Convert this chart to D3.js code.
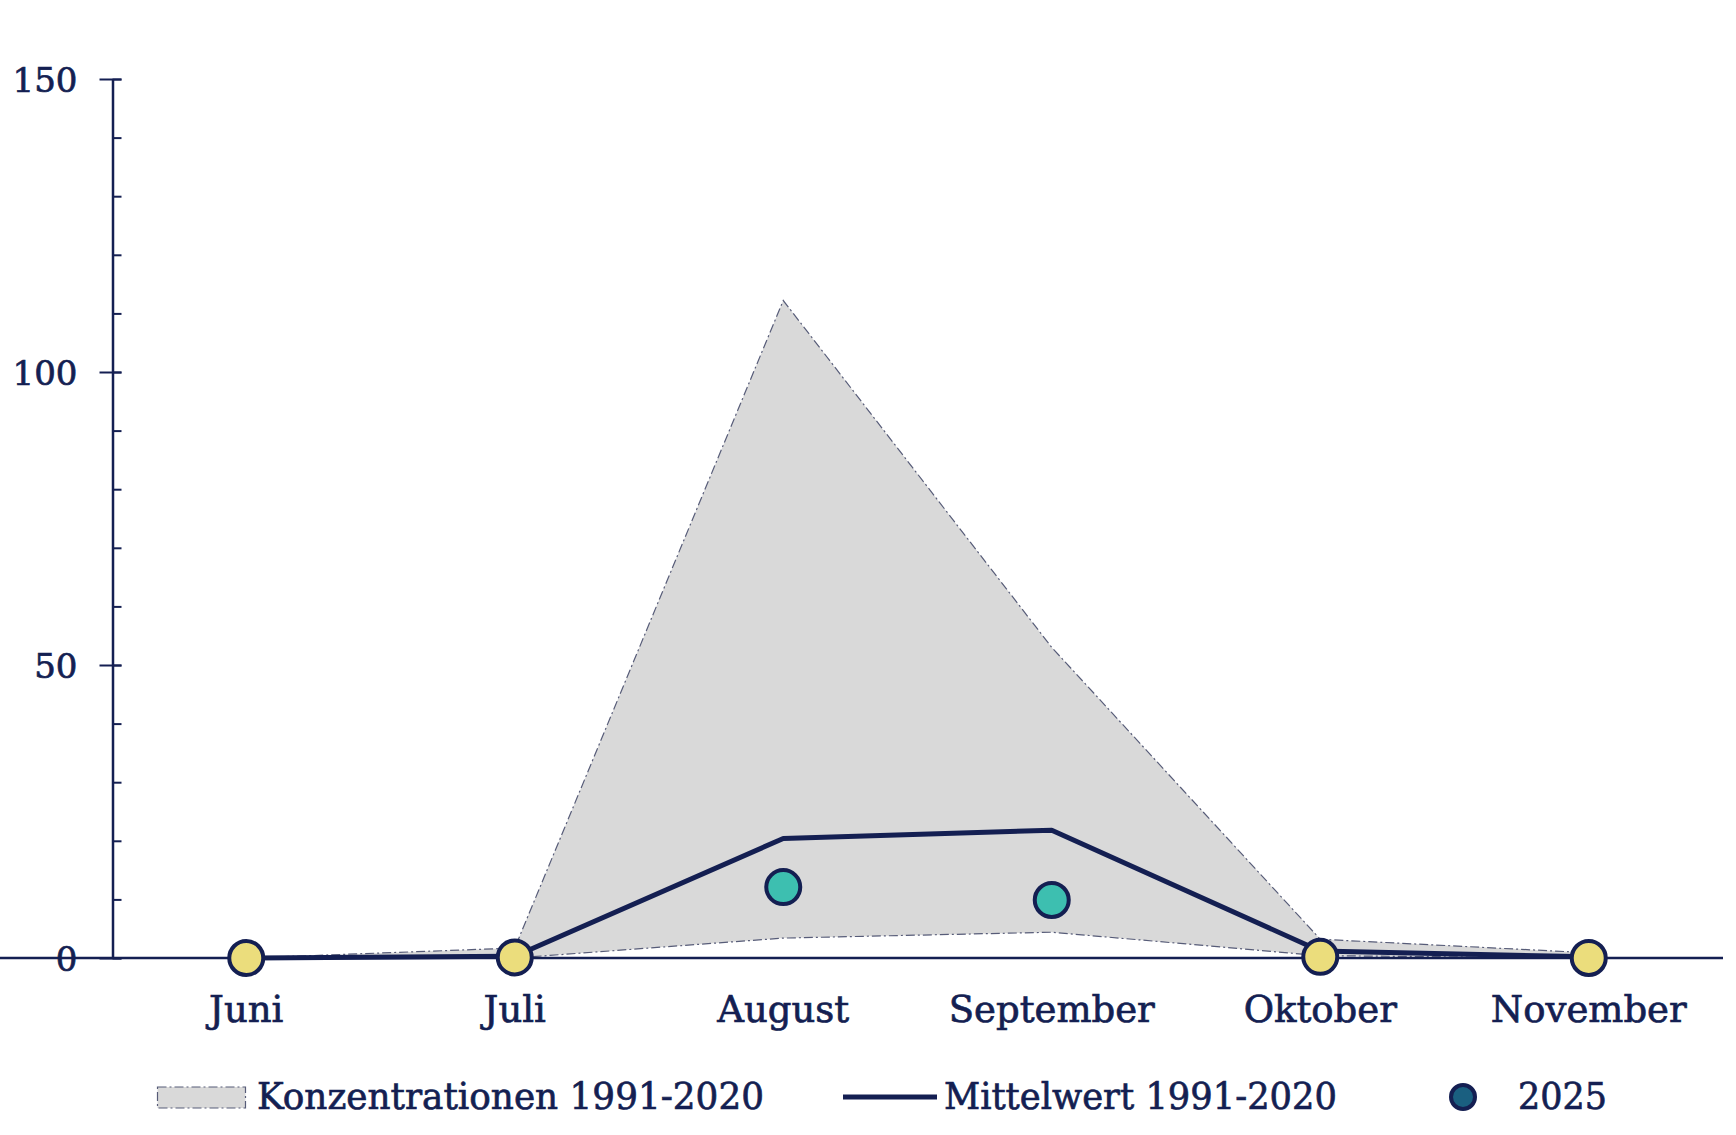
<!DOCTYPE html>
<html>
<head>
<meta charset="utf-8">
<script src="https://cdn.jsdelivr.net/npm/d3@7"></script>
<style>
  body { margin: 0; background: #fff; }
  text { font-family: "DejaVu Serif", Georgia, serif; fill: #141f52; stroke: #141f52; stroke-width: 0.7px; }
</style>
</head>
<body>
<figure style="margin:0"></figure>
<script>

// data
var monate = ["Juni", "Juli", "August", "September", "Oktober", "November"];
var bandOben = [0, 1.7, 112.2, 53, 3.2, 0.9];
var bandUnten = [0, 0, 3.4, 4.4, 0.4, 0];
var mittelwert = [0, 0.3, 20.4, 21.8, 1.2, 0.2];
var werte2025 = [0, 0.1, 12.1, 9.9, 0.2, 0];
var status2025 = ["gering", "gering", "normal", "normal", "gering", "gering"];
var yTicks = [0, 50, 100, 150];
var legendeTexte = ["Konzentrationen 1991-2020", "Mittelwert 1991-2020", "2025"];

var navy = "#141f52";
var farben = {gering: "#ebdd7c", normal: "#3dbfb0"};

var width = 1736,
height = 1135;

var svg = d3.select("figure").append("svg")
.attr("width", width)
.attr("height", height);

var x = d3.scaleBand()
.domain(monate)
.range([112, 1723])
.padding(0);

var y = d3.scaleLinear()
.domain([0, 150])
.range([958, 79]);

var cx = function(i) { return x(monate[i]) + x.bandwidth() / 2; };

// grey range 1991-2020
var area = d3.area()
.x(function(d, i) { return cx(i); })
.y0(function(d, i) { return y(bandUnten[i]); })
.y1(function(d) { return y(d); });

svg.append("path")
.datum(bandOben)
.attr("d", area)
.attr("fill", "#d9d9d9")
.attr("stroke", "#575c78")
.attr("stroke-width", 1.2)
.attr("stroke-dasharray", "9,3,2,3");

// y axis: major ticks with labels, minor ticks every 10
var yAxisMinor = d3.axisRight(y)
.tickValues(d3.range(0, 151, 10))
.tickSize(9)
.tickFormat("");

svg.append("g")
.attr("class", "y axis minor")
.attr("transform", "translate(112.5,0)")
.call(yAxisMinor)
.call(function(g) { g.select(".domain").remove(); });

var yAxis = d3.axisLeft(y)
.tickValues(yTicks)
.tickSizeInner(13)
.tickSizeOuter(0)
.tickPadding(22)
.tickFormat(d3.format("d"));

svg.append("g")
.attr("class", "y axis")
.attr("transform", "translate(112.5,0)")
.call(yAxis);

svg.selectAll(".y.axis .tick line")
.attr("stroke", navy)
.attr("stroke-width", 2);

svg.select(".y.axis:not(.minor) .domain")
.attr("stroke", navy)
.attr("stroke-width", 2.5);

svg.selectAll(".y.axis text")
.style("font-family", "DejaVu Serif, serif")
.style("font-size", "34px")
.attr("fill", navy)
.attr("dy", "0.36em");

// major ticks cross the axis
svg.selectAll(".y.axis:not(.minor) .tick line")
.attr("x1", 9);

// x axis baseline + labels
var xAxis = d3.axisBottom(x)
.tickSize(0)
.tickPadding(38);

svg.append("g")
.attr("class", "x axis")
.attr("transform", "translate(0,958)")
.call(xAxis)
.call(function(g) {
    g.select(".domain")
    .attr("d", "M-12,0H1723")
    .attr("stroke", navy)
    .attr("stroke-width", 2.5);
    g.selectAll("text")
    .style("font-family", "DejaVu Serif, serif")
    .style("font-size", "37px")
    .attr("fill", navy);
});

// mean line
var line = d3.line()
.x(function(d, i) { return cx(i); })
.y(function(d) { return y(d); });

svg.append("path")
.datum(mittelwert)
.attr("d", line)
.attr("fill", "none")
.attr("stroke", navy)
.attr("stroke-width", 5)
.attr("stroke-linejoin", "round");

// 2025 points
svg.selectAll(".punkt")
.data(werte2025)
.enter().append("circle")
.attr("class", "punkt")
.attr("cx", function(d, i) { return cx(i); })
.attr("cy", function(d) { return y(d); })
.attr("r", 17)
.attr("fill", function(d, i) { return farben[status2025[i]]; })
.attr("stroke", navy)
.attr("stroke-width", 4);

// legend
var leg = svg.append("g").attr("class", "legend");
var legY = 1097;

leg.append("rect")
.attr("x", 157.5)
.attr("y", 1087)
.attr("width", 88)
.attr("height", 21)
.attr("fill", "#d9d9d9")
.attr("stroke", "#575c78")
.attr("stroke-width", 1.2)
.attr("stroke-dasharray", "9,3,2,3");

leg.append("line")
.attr("x1", 843)
.attr("x2", 937)
.attr("y1", legY)
.attr("y2", legY)
.attr("stroke", navy)
.attr("stroke-width", 5);

leg.append("circle")
.attr("cx", 1463)
.attr("cy", legY)
.attr("r", 12)
.attr("fill", "#1a5f80")
.attr("stroke", navy)
.attr("stroke-width", 4);

var legX = [257, 944, 1518],
legW = [507, 393, 89];

leg.selectAll(".legtext")
.data(legendeTexte)
.enter().append("text")
.attr("class", "legtext")
.attr("x", function(d, i) { return legX[i]; })
.attr("y", 1109)
.attr("textLength", function(d, i) { return legW[i]; })
.attr("lengthAdjust", "spacingAndGlyphs")
.style("font-size", "37px")
.text(function(d) { return d; });

</script>
</body>
</html>
